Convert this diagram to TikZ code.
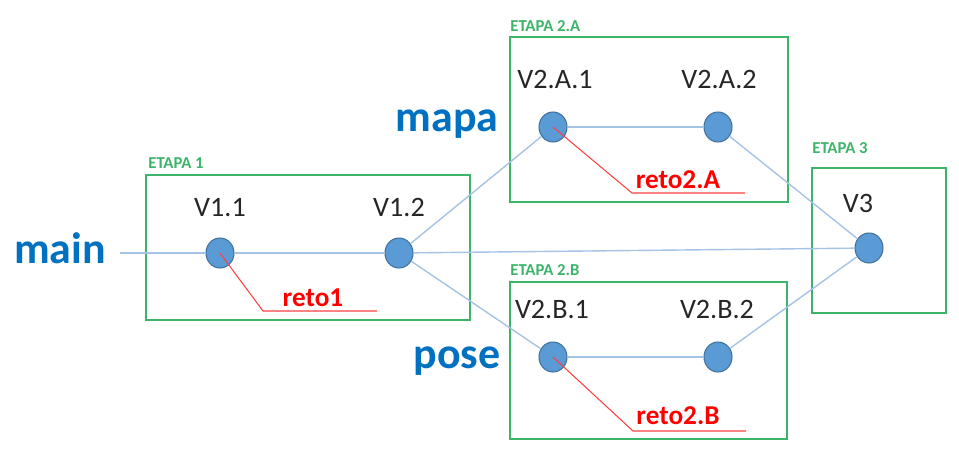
\documentclass[tikz,border=0pt]{standalone}
\usepackage{fontspec}
\setmainfont{Carlito}
\usepackage{tikz}
\usetikzlibrary{shapes.geometric,positioning}

\definecolor{nodeblue}{RGB}{91,155,213}
\definecolor{nodeedge}{RGB}{65,113,156}
\definecolor{linkblue}{RGB}{165,195,228}
\definecolor{stagegreen}{RGB}{60,180,105}
\definecolor{branchblue}{RGB}{0,112,192}
\definecolor{retored}{RGB}{255,0,0}

\begin{document}
\begin{tikzpicture}[x=0.02cm, y=-0.02cm]
		\tikzstyle{Vertex} 	= [ellipse, draw=nodeedge, fill=nodeblue, line width=0.6pt, minimum width=0.56cm, minimum height=0.6cm, inner sep=0pt]
		\tikzstyle{Name}	= [anchor=base, font=\fontsize{16}{18}\selectfont, text=black!85]
		\tikzstyle{Branch}	= [anchor=base, font=\fontsize{25}{28}\selectfont\bfseries, text=branchblue]
		\tikzstyle{Reto}	= [anchor=base, font=\fontsize{15.5}{18}\selectfont\bfseries, text=retored]
		\tikzstyle{Etapa}	= [anchor=base west, inner sep=0pt, font=\fontsize{9.5}{11}\selectfont\bfseries, text=stagegreen]
		\tikzstyle{Stage}	= [stagegreen, line width=1.1pt]
		\tikzstyle{Link}	= [linkblue, line width=0.8pt]
		\tikzstyle{RL}		= [retored!75, line width=0.6pt]

		\useasboundingbox (0,0) rectangle (959,456);

		% etapas
		\draw [Stage] (146,175) rectangle (470,320);
		\draw [Stage] (510,37) rectangle (788,202);
		\draw [Stage] (510,282) rectangle (787,439);
		\draw [Stage] (812,168) rectangle (946,313);
		\node (e1) at (148,168) [Etapa]{ETAPA 1};
		\node (e2a) at (510,32) [Etapa]{ETAPA 2.A};
		\node (e2b) at (510,275) [Etapa]{ETAPA 2.B};
		\node (e3) at (812,153) [Etapa]{ETAPA 3};

		% ramas
		\node (main) at (60,263) [Branch]{main};
		\node (mapa) at (447,132) [Branch]{mapa};
		\node (pose) at (457,368) [Branch]{pose};
		\coordinate (start) at (120,253);

		\node (v11) at (220,253) [Vertex]{};
		\node (v12) at (399,253) [Vertex]{};
		\node (v2a1) at (553,127) [Vertex]{};
		\node (v2a2) at (718,127) [Vertex]{};
		\node (v2b1) at (553,357) [Vertex]{};
		\node (v2b2) at (718,357) [Vertex]{};
		\node (v3) at (869,248) [Vertex]{};

		\node (l11) at (220,216) [Name]{V1.1};
		\node (l12) at (399,216) [Name]{V1.2};
		\node (l2a1) at (555,89) [Name]{V2.A.1};
		\node (l2a2) at (719,89) [Name]{V2.A.2};
		\node (l2b1) at (552,318) [Name]{V2.B.1};
		\node (l2b2) at (717,318) [Name]{V2.B.2};
		\node (l3) at (858,212) [Name]{V3};

		\draw [-] (start) to (v11) [Link];
		\draw [-] (v11) to (v12) [Link];
		\draw [-] (v12) to (v2a1) [Link];
		\draw [-] (v12) to (v2b1) [Link];
		\draw [-] (v12) to (v3) [Link];
		\draw [-] (v2a1) to (v2a2) [Link];
		\draw [-] (v2b1) to (v2b2) [Link];
		\draw [-] (v2a2) to (v3) [Link];
		\draw [-] (v2b2) to (v3) [Link];

		% retos
		\coordinate (r1a) at (263,311);
		\coordinate (r1b) at (377,311);
		\coordinate (r2aa) at (632,193);
		\coordinate (r2ab) at (745,193);
		\coordinate (r2ba) at (633,431);
		\coordinate (r2bb) at (746,431);
		\draw [-] (v11.center) -- (r1a) -- (r1b) [RL];
		\draw [-] (v2a1.center) -- (r2aa) -- (r2ab) [RL];
		\draw [-] (v2b1.center) -- (r2ba) -- (r2bb) [RL];
		\node (reto1) at (313,306) [Reto]{reto1};
		\node (reto2a) at (678,188) [Reto]{reto2.A};
		\node (reto2b) at (678,424) [Reto]{reto2.B};
	\end{tikzpicture}
\end{document}
